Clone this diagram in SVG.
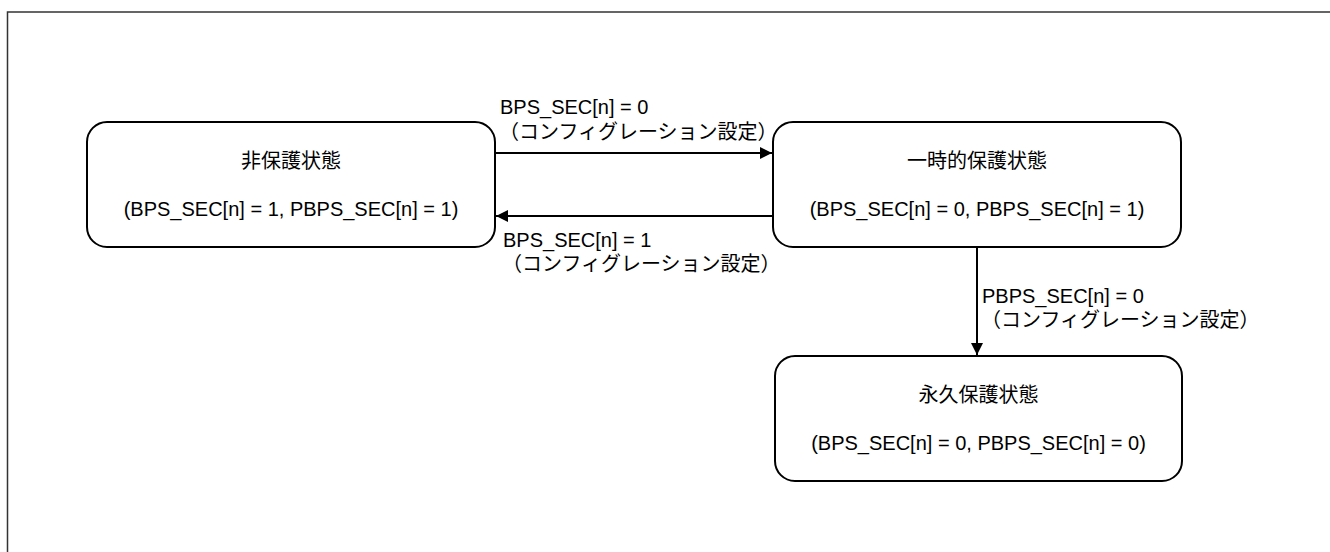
<svg xmlns="http://www.w3.org/2000/svg" width="1330" height="552" viewBox="0 0 1330 552">
<defs>
<style>
.frame{fill:none;stroke:#333;stroke-width:1.5}
.node{fill:#fff;stroke:#000;stroke-width:2}
.t{font-family:"Liberation Sans","Noto Sans CJK JP",sans-serif;font-size:20px;fill:#000}
.c{text-anchor:middle}
.edge{fill:none;stroke:#000;stroke-width:2}
</style>
<marker id="ah" viewBox="0 0 12 12" refX="12" refY="6" markerWidth="12" markerHeight="12" markerUnits="userSpaceOnUse" orient="auto">
<path d="M0,0 L12,6 L0,12 Z" fill="#000"/>
</marker>
</defs>
<rect width="1330" height="552" fill="#fff"/>
<rect class="frame" x="7.5" y="12" width="1340" height="560"/>
<g id="node-unprotected">
<rect class="node" x="87" y="122" width="408" height="125" rx="20"/>
<text class="t c" x="291" y="168">非保護状態</text>
<text class="t c" x="291" y="216">(BPS_SEC[n] = 1, PBPS_SEC[n] = 1)</text>
</g>
<g id="node-temporary">
<rect class="node" x="773" y="122" width="408" height="125" rx="20"/>
<text class="t c" x="977" y="168">一時的保護状態</text>
<text class="t c" x="977" y="216">(BPS_SEC[n] = 0, PBPS_SEC[n] = 1)</text>
</g>
<g id="node-permanent">
<rect class="node" x="775" y="356" width="407" height="125" rx="20"/>
<text class="t c" x="978.5" y="402">永久保護状態</text>
<text class="t c" x="978.5" y="450">(BPS_SEC[n] = 0, PBPS_SEC[n] = 0)</text>
</g>
<g id="connectors">
<line class="edge" x1="495" y1="153" x2="772" y2="153" marker-end="url(#ah)"/>
<line class="edge" x1="773" y1="216" x2="496" y2="216" marker-end="url(#ah)"/>
<line class="edge" x1="977" y1="247" x2="977" y2="355" marker-end="url(#ah)"/>
<text class="t" x="500" y="114">BPS_SEC[n] = 0</text>
<text class="t" x="499" y="139">（コンフィグレーション設定）</text>
<text class="t" x="503" y="247">BPS_SEC[n] = 1</text>
<text class="t" x="502" y="271">（コンフィグレーション設定）</text>
<text class="t" x="982" y="303">PBPS_SEC[n] = 0</text>
<text class="t" x="981" y="327">（コンフィグレーション設定）</text>
</g>
</svg>
